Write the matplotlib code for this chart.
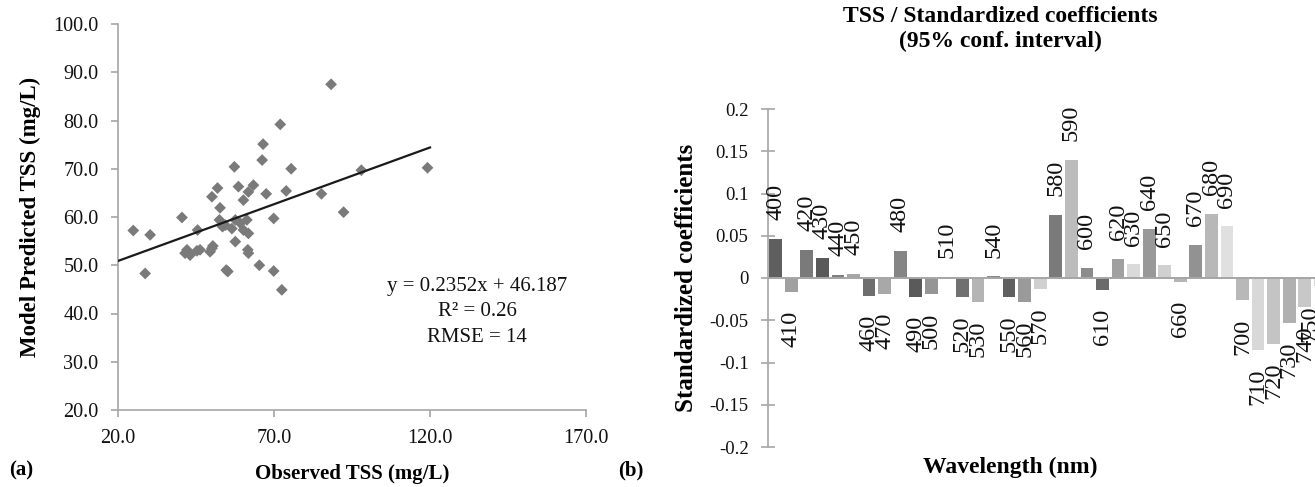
import matplotlib
matplotlib.use("Agg")
import matplotlib.pyplot as plt
import numpy as np

plt.rcParams['font.family'] = ['Liberation Serif', 'DejaVu Serif']

# ---------------- data ----------------
observed = [24.9, 30.3, 28.7, 40.5, 45.5, 42.1, 43.1, 45.3, 41.5, 46.3,
            49.5, 50.1, 54.7, 55.2, 57.3, 51.9, 50.1, 58.6, 52.7, 57.6,
            52.5, 54.4, 56.5, 57.6, 59.2, 61.3, 60.2, 61.8, 60.2, 61.8,
            63.4, 61.6, 61.8, 65.3, 69.9, 72.5, 69.9, 67.5, 66.2, 66.5,
            72.0, 75.5, 73.9, 85.2, 88.3, 92.3, 98.0, 119.2, 50.4, 53.5]
predicted = [57.2, 56.3, 48.3, 59.9, 57.3, 53.2, 52.1, 53.0, 52.5, 53.2,
             52.8, 53.5, 49.0, 48.7, 70.4, 66.0, 64.2, 66.3, 61.9, 54.9,
             59.4, 58.3, 57.6, 59.4, 58.7, 59.4, 57.3, 56.6, 63.5, 65.2,
             66.6, 53.2, 52.5, 50.0, 48.8, 44.9, 59.7, 64.8, 71.8, 75.1,
             79.2, 70.0, 65.4, 64.8, 87.5, 61.0, 69.7, 70.2, 54.0, 58.0]
fit_slope = 0.2352
fit_intercept = 46.187
fit_range = [20.0, 120.0]
fit_text = ["y = 0.2352x + 46.187", "R\u00b2 = 0.26", "RMSE = 14"]
scatter_xticks = [20.0, 70.0, 120.0, 170.0]
scatter_yticks = [20.0, 30.0, 40.0, 50.0, 60.0, 70.0, 80.0, 90.0, 100.0]

wavelengths = [400, 410, 420, 430, 440, 450, 460, 470, 480, 490, 500, 510,
               520, 530, 540, 550, 560, 570, 580, 590, 600, 610, 620, 630,
               640, 650, 660, 670, 680, 690, 700, 710, 720, 730, 740, 750]
coefficients = [0.046, -0.016, 0.033, 0.024, 0.004, 0.005, -0.021, -0.019,
                0.032, -0.023, -0.019, 0.001, -0.022, -0.028, 0.002, -0.022,
                -0.028, -0.013, 0.075, 0.140, 0.012, -0.014, 0.023, 0.016,
                0.058, 0.015, -0.005, 0.039, 0.076, 0.061, -0.026, -0.085,
                -0.078, -0.053, -0.034, -0.010]
bar_yticks = [-0.2, -0.15, -0.1, -0.05, 0, 0.05, 0.1, 0.15, 0.2]
bar_ytick_labels = ["-0.2", "-0.15", "-0.1", "-0.05", "0", "0.05", "0.1", "0.15", "0.2"]

# style: bar grey shades
bar_colors = ['#5f5f5f', '#a0a0a0', '#7a7a7a', '#595959', '#808080', '#a6a6a6',
              '#6e6e6e', '#a8a8a8', '#858585', '#5a5a5a', '#959595', '#8a8a8a',
              '#707070', '#b4b4b4', '#8a8a8a', '#5f5f5f', '#9a9a9a', '#d0d0d0',
              '#7a7a7a', '#bcbcbc', '#8c8c8c', '#6a6a6a', '#a0a0a0', '#dadada',
              '#999999', '#d0d0d0', '#b5b5b5', '#929292', '#b8b8b8', '#e0e0e0',
              '#b8b8b8', '#d8d8d8', '#c4c4c4', '#b0b0b0', '#c8c8c8', '#d8d8d8']

W, H = 1315, 487
fig = plt.figure(figsize=(W / 100, H / 100), dpi=100)
fig.patch.set_facecolor('white')

def px_axes(x0, y0, x1, y1):
    return fig.add_axes([x0 / W, 1 - y1 / H, (x1 - x0) / W, (y1 - y0) / H])

spine_col = '#a6a6a6'
txt_col = '#111111'

# ---------------- (a) scatter ----------------
ax = px_axes(118, 24, 586, 410)
ax.scatter(observed, predicted, marker='D', s=36, color='#7a7a7a',
           edgecolors='none', zorder=3)
xx = np.array(fit_range)
ax.plot(xx, fit_slope * xx + fit_intercept, color='#1a1a1a', lw=1.6, zorder=4)
ax.set_xlim(20, 170)
ax.set_ylim(20, 100)
ax.set_xticks(scatter_xticks)
ax.set_xticklabels([f"{v:.1f}" for v in scatter_xticks])
ax.set_yticks(scatter_yticks)
ax.set_yticklabels([f"{v:.1f}" for v in scatter_yticks])
for s in ['top', 'right']:
    ax.spines[s].set_visible(False)
for s in ['left', 'bottom']:
    ax.spines[s].set_color(spine_col)
    ax.spines[s].set_linewidth(1.2)
ax.tick_params(axis='both', direction='out', length=5, width=1.2,
               color=spine_col, labelsize=14.5, labelcolor=txt_col)
ax.tick_params(axis='y', pad=9)
ax.tick_params(axis='x', pad=9)
ax.set_xlabel("Observed TSS (mg/L)", fontsize=15, fontweight='bold', labelpad=11)
ax.set_ylabel("Model Predicted TSS (mg/L)", fontsize=16.5, fontweight='bold', labelpad=9)
for i, t in enumerate(fit_text):
    ax.text((477 - 118) / 468, (410 - (287 + 25 * i)) / 386, t,
            transform=ax.transAxes, ha='center', va='center', fontsize=15,
            color=txt_col)

fig.text(9 / W, 1 - 470 / H, "(a)", fontsize=15, fontweight='bold', va='center')
fig.text(618 / W, 1 - 470 / H, "(b)", fontsize=15, fontweight='bold', va='center')

# ---------------- (b) bars ----------------
bx = px_axes(768, 109, W, 447)
idx = np.arange(len(wavelengths))
bx.bar(idx, coefficients, width=0.82, color=bar_colors, zorder=2)
bx.axhline(0, color=spine_col, lw=1.4, zorder=3)
xlim_right = 34.66
bx.set_xlim(-0.495, xlim_right)
bx.set_ylim(-0.2, 0.2)
bx.set_yticks(bar_yticks)
bx.set_yticklabels(bar_ytick_labels)
bx.set_xticks([])
for s in ['top', 'right', 'bottom']:
    bx.spines[s].set_visible(False)
bx.spines['left'].set_color(spine_col)
bx.spines['left'].set_linewidth(1.2)
bx.tick_params(axis='y', direction='inout', length=10, width=1.2,
               color=spine_col, labelsize=13.5, labelcolor=txt_col, pad=9)
bx.set_ylabel("Standardized coefficients", fontsize=18, fontweight='bold', labelpad=8)
for i, (w, v) in enumerate(zip(wavelengths, coefficients)):
    lx = min(i, xlim_right - 0.35)
    if v >= 0:
        bx.annotate(str(w), (lx, v), xytext=(0, 13.5), textcoords='offset points',
                    rotation=90, ha='center', va='bottom', fontsize=17.5,
                    color=txt_col, annotation_clip=False)
    else:
        bx.annotate(str(w), (lx, v), xytext=(0, -13.5), textcoords='offset points',
                    rotation=90, ha='center', va='top', fontsize=17.5,
                    color=txt_col, annotation_clip=False)

fig.text(1000 / W, 1 - 16 / H, "TSS / Standardized coefficients", fontsize=17,
         fontweight='bold', ha='center', va='center')
fig.text(1000 / W, 1 - 41 / H, "(95% conf. interval)", fontsize=17,
         fontweight='bold', ha='center', va='center')
fig.text(1010 / W, 1 - 467 / H, "Wavelength (nm)", fontsize=17,
         fontweight='bold', ha='center', va='center')

fig.savefig("out.png", dpi=100)
